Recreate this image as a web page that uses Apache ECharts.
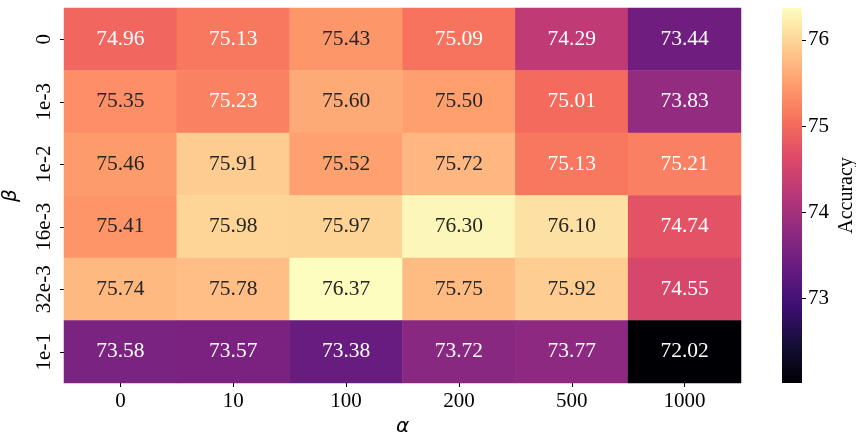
<!DOCTYPE html>
<html>
<head>
<meta charset="utf-8">
<script src="https://cdn.jsdelivr.net/npm/echarts@6/dist/echarts.min.js"></script>
<style>
  html, body { margin: 0; padding: 0; background: #fff; }
  #chart { width: 856px; height: 432px; }
</style>
</head>
<body>
<div id="chart"></div>
<script>
// Accuracy grid over alpha (columns) and beta (rows, top to bottom)
const alphaLabels = ['0', '10', '100', '200', '500', '1000'];
const betaLabels = ['0', '1e-3', '1e-2', '16e-3', '32e-3', '1e-1'];

const rowBeta0    = [74.96, 75.13, 75.43, 75.09, 74.29, 73.44];
const rowBeta1e3  = [75.35, 75.23, 75.60, 75.50, 75.01, 73.83];
const rowBeta1e2  = [75.46, 75.91, 75.52, 75.72, 75.13, 75.21];
const rowBeta16e3 = [75.41, 75.98, 75.97, 76.30, 76.10, 74.74];
const rowBeta32e3 = [75.74, 75.78, 76.37, 75.75, 75.92, 74.55];
const rowBeta1e1  = [73.58, 73.57, 73.38, 73.72, 73.77, 72.02];

const rows = [rowBeta0, rowBeta1e3, rowBeta1e2, rowBeta16e3, rowBeta32e3, rowBeta1e1];
const colorbarTicks = [73, 74, 75, 76];

// magma colormap samples, low to high
const magma = ['#000004', '#140e36', '#3b0f70', '#641a80', '#8c2981', '#b73779',
               '#de4968', '#f7705c', '#fe9f6d', '#fecf92', '#fcfdbf'];

const all = rows.flat();
const vMin = Math.min(...all);
const vMax = Math.max(...all);

// relative luminance of a hex colour, used to pick the annotation colour
function hexToRgb(h) {
  return [1, 3, 5].map(i => parseInt(h.substr(i, 2), 16) / 255);
}
function lerpColor(t) {
  const n = magma.length - 1;
  const p = Math.max(0, Math.min(1, t)) * n;
  const i = Math.min(Math.floor(p), n - 1);
  const f = p - i;
  const a = hexToRgb(magma[i]), b = hexToRgb(magma[i + 1]);
  return a.map((c, k) => c + (b[k] - c) * f);
}
function luminance(rgb) {
  const lin = rgb.map(c => c <= 0.03928 ? c / 12.92 : Math.pow((c + 0.055) / 1.055, 2.4));
  return 0.2126 * lin[0] + 0.7152 * lin[1] + 0.0722 * lin[2];
}

const cells = [];
rows.forEach((row, yi) => {
  row.forEach((v, xi) => {
    const lum = luminance(lerpColor((v - vMin) / (vMax - vMin)));
    cells.push({
      value: [xi, yi, v],
      label: { color: lum > 0.408 ? '#262626' : '#ffffff' }
    });
  });
});

const serif = '"Liberation Serif", "Times New Roman", serif';
const chart = echarts.init(document.getElementById('chart'), null, { renderer: 'canvas' });

chart.setOption({
  animation: false,
  backgroundColor: '#ffffff',
  grid: [
    { left: 64, top: 8, width: 677, height: 375, outerBoundsMode: 'none', containLabel: false },
    { left: 782, top: 8, width: 20, height: 375, outerBoundsMode: 'none', containLabel: false }
  ],
  xAxis: [
    {
      type: 'category', gridIndex: 0, data: alphaLabels, position: 'bottom',
      name: 'α', nameLocation: 'middle', nameGap: 32,
      nameTextStyle: { fontFamily: '"DejaVu Sans", sans-serif', fontStyle: 'italic', fontSize: 20, color: '#000' },
      axisLine: { show: false },
      axisTick: { show: true, alignWithLabel: true, length: 4, lineStyle: { color: '#000', width: 1 } },
      axisLabel: { fontFamily: serif, fontSize: 21, color: '#000', margin: 8 },
      splitLine: { show: false }
    },
    {
      type: 'category', gridIndex: 1, data: ['cb'], show: false
    }
  ],
  yAxis: [
    {
      type: 'category', gridIndex: 0, data: betaLabels, inverse: true,
      name: 'β', nameLocation: 'middle', nameGap: 43, nameRotate: 90,
      nameTextStyle: { fontFamily: '"DejaVu Sans", sans-serif', fontStyle: 'italic', fontSize: 20, color: '#000' },
      axisLine: { show: false },
      axisTick: { show: true, alignWithLabel: true, length: 4, lineStyle: { color: '#000', width: 1 } },
      axisLabel: { fontFamily: serif, fontSize: 21, color: '#000', rotate: 90, margin: 9, align: 'center', verticalAlign: 'bottom' },
      splitLine: { show: false }
    },
    {
      type: 'value', gridIndex: 1, min: vMin, max: vMax, position: 'right',
      name: 'Accuracy', nameLocation: 'middle', nameGap: 35, nameRotate: 90,
      nameTextStyle: { fontFamily: serif, fontSize: 20, color: '#000' },
      axisLine: { show: false },
      axisTick: { show: true, length: 4, customValues: colorbarTicks, lineStyle: { color: '#000', width: 1 } },
      axisLabel: { fontFamily: serif, fontSize: 21, color: '#000', margin: 6, customValues: colorbarTicks },
      splitLine: { show: false }
    }
  ],
  visualMap: {
    type: 'continuous', show: false, seriesIndex: 0, dimension: 2,
    min: vMin, max: vMax,
    inRange: { color: magma }
  },
  series: [
    {
      type: 'heatmap', xAxisIndex: 0, yAxisIndex: 0,
      data: cells,
      label: {
        show: true, fontFamily: serif, fontSize: 21.5,
        formatter: p => p.value[2].toFixed(2)
      },
      itemStyle: { borderWidth: 0 },
      emphasis: { disabled: true }
    },
    {
      // colour bar: one rect spanning the value range, filled with the colormap
      type: 'custom', xAxisIndex: 1, yAxisIndex: 1,
      data: [[0, vMin, vMax]],
      renderItem: (params, api) => {
        const top = api.coord([0, api.value(2)]);
        const bottom = api.coord([0, api.value(1)]);
        const size = api.size([1, 0]);
        const stops = magma.map((c, i) => ({ offset: i / (magma.length - 1), color: c })).reverse()
          .map((s, i, arr) => ({ offset: i / (arr.length - 1), color: s.color }));
        return {
          type: 'rect',
          shape: { x: top[0] - size[0] / 2, y: top[1], width: size[0], height: bottom[1] - top[1] },
          style: { fill: new echarts.graphic.LinearGradient(0, 0, 0, 1, stops) }
        };
      },
      silent: true
    }
  ]
});
</script>
</body>
</html>
